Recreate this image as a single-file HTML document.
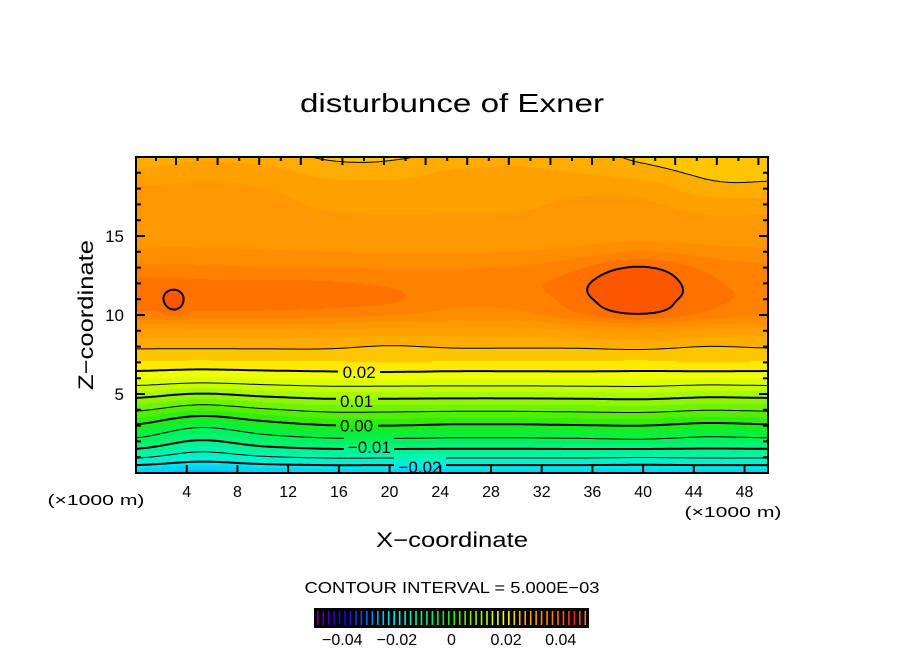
<!DOCTYPE html>
<html><head><meta charset="utf-8">
<style>
html,body{margin:0;padding:0;background:#fff;}
#wrap{position:relative;width:904px;height:654px;overflow:hidden;font-family:"Liberation Sans",sans-serif;}
canvas,svg{position:absolute;left:0;top:0;}
</style></head>
<body>
<div id="wrap">
<canvas id="fill" width="904" height="654"></canvas>
<svg id="svg" width="904" height="654"></svg>
</div>
<script>
// ---- data ----
const xCoords = [0,5,10,15,20,25,30,35,40,45,50];
const zCoords = [0,1,2,3,4,5,6,7,8,9,10,11,12,13,14,15,16,17,18,19,20];
const fieldRows = [
[-0.0245,-0.026,-0.025,-0.0245,-0.0245,-0.0245,-0.0245,-0.0245,-0.0245,-0.0245,-0.0245],
[-0.0145,-0.0175,-0.0155,-0.0145,-0.0145,-0.0145,-0.0145,-0.0145,-0.0148,-0.0145,-0.0145],
[-0.0065,-0.0105,-0.0078,-0.0065,-0.0063,-0.0065,-0.0065,-0.0063,-0.006,-0.0068,-0.0065],
[-0.0005,-0.0042,-0.0018,-0.0002,0.0,-0.0005,-0.0005,-0.0002,0.0,-0.001,-0.0005],
[0.0055,0.0028,0.0045,0.0058,0.0058,0.0056,0.0056,0.0058,0.006,0.0052,0.0055],
[0.0115,0.0098,0.011,0.0118,0.0118,0.0117,0.0117,0.0118,0.012,0.0113,0.0115],
[0.0178,0.017,0.0175,0.018,0.018,0.0179,0.0179,0.018,0.018,0.0176,0.0178],
[0.0222,0.022,0.0222,0.0222,0.0225,0.0222,0.0222,0.0222,0.022,0.0225,0.0222],
[0.0255,0.0255,0.0255,0.0255,0.0248,0.0253,0.0253,0.0253,0.0255,0.0249,0.0253],
[0.0295,0.0295,0.0295,0.0295,0.029,0.029,0.029,0.0295,0.0298,0.0295,0.029],
[0.0365,0.0365,0.0365,0.036,0.035,0.034,0.034,0.036,0.0368,0.036,0.0355],
[0.039,0.0385,0.0385,0.0385,0.038,0.0355,0.036,0.0372,0.0368,0.0372,0.037],
[0.0385,0.038,0.038,0.0378,0.037,0.0358,0.0368,0.0372,0.0368,0.037,0.0365],
[0.0355,0.0355,0.0352,0.035,0.0348,0.0348,0.0352,0.0358,0.0365,0.036,0.0355],
[0.033,0.033,0.0328,0.0325,0.0323,0.0323,0.0325,0.033,0.0335,0.0335,0.033],
[0.0315,0.0315,0.0313,0.031,0.0308,0.0308,0.0308,0.031,0.0312,0.031,0.031],
[0.031,0.031,0.0308,0.0303,0.0302,0.0302,0.0302,0.0305,0.0307,0.0303,0.0303],
[0.0306,0.0306,0.0304,0.0298,0.0296,0.0297,0.0298,0.0302,0.0303,0.029,0.029],
[0.0302,0.0302,0.03,0.0292,0.029,0.0292,0.0294,0.0296,0.029,0.026,0.0255],
[0.0285,0.0295,0.029,0.0265,0.0262,0.028,0.028,0.0275,0.0262,0.0245,0.0248],
[0.025,0.027,0.026,0.0248,0.0248,0.0255,0.027,0.026,0.0245,0.0235,0.024]
];
const bumpX = [3, 39.5];
const bumpZ = [10.8, 11.7];
const bumpAmp = [0.003, 0.0055];
const bumpRx = [0.9, 4.6];
const bumpRz = [0.9, 2.1];
const lineLevels = [-0.02,-0.015,-0.01,-0.005,0,0.005,0.01,0.015,0.02,0.025,0.04];
const labelText = ["0.02","0.01","0.00","\u22120.01","\u22120.02"];
const labelX = [17.6,17.4,17.4,18.4,22.4];
const labelZ = [6.4,4.55,3.0,1.65,0.38];
const xTicks = [4,8,12,16,20,24,28,32,36,40,44,48];
const zTicks = [5,10,15];
const cbTicks = [-0.04,-0.02,0,0.02,0.04];
const cbTickText = ["\u22120.04","\u22120.02","0","0.02","0.04"];

// ---- geometry ----
const L=136,R=768,T=157,B=473;
const X0=0,X1=49.85,Z0=0,Z1=20;
const sx=x=>L+(x-X0)/(X1-X0)*(R-L);
const sz=z=>B-(z-Z0)/(Z1-Z0)*(B-T);
const ix=px=>X0+(px-L)/(R-L)*(X1-X0);
const iz=py=>Z0+(B-py)/(B-T)*(Z1-Z0);

function cr(p0,p1,p2,p3,t){return 0.5*((2*p1)+(-p0+p2)*t+(2*p0-5*p1+4*p2-p3)*t*t+(-p0+3*p1-3*p2+p3)*t*t*t);}
function g(i,j){i=Math.max(0,Math.min(zCoords.length-1,i));j=Math.max(0,Math.min(xCoords.length-1,j));return fieldRows[i][j];}
function field(x,z){
  let fx=(x-xCoords[0])/(xCoords[1]-xCoords[0]), fz=(z-zCoords[0])/(zCoords[1]-zCoords[0]);
  fx=Math.max(0,Math.min(xCoords.length-1.0001,fx)); fz=Math.max(0,Math.min(zCoords.length-1.0001,fz));
  const j=Math.floor(fx),i=Math.floor(fz),tx=fx-j,tz=fz-i;
  const r=[];
  for(let k=-1;k<=2;k++) r.push(cr(g(i+k,j-1),g(i+k,j),g(i+k,j+1),g(i+k,j+2),tx));
  let v=cr(r[0],r[1],r[2],r[3],tz);
  for(let b=0;b<bumpX.length;b++){const dx=(x-bumpX[b])/bumpRx[b],dz=(z-bumpZ[b])/bumpRz[b];v+=bumpAmp[b]*Math.exp(-(dx*dx+dz*dz));}
  return v;
}
const stopsV=[-0.05,-0.04,-0.03,-0.025,-0.02,-0.015,-0.01,-0.005,0,0.005,0.01,0.015,0.02,0.0225,0.025,0.0275,0.03,0.0325,0.035,0.0375,0.04,0.045,0.05];
const stopsC=["#7000a0","#2000d0","#0070ff","#00c8ff","#00eee8","#00f4b8","#00f488","#00f050","#20ec10","#60f000","#9cf800","#d0ff00","#f8ff00","#ffd800","#ffb400","#ffa400","#ff9c00","#ff9200","#ff8800","#ff7a00","#ff6a00","#ff2000","#ff7070"];
function hex(c){return [parseInt(c.substr(1,2),16),parseInt(c.substr(3,2),16),parseInt(c.substr(5,2),16)];}
function color(v){
  if(v<=stopsV[0])return hex(stopsC[0]);
  for(let k=1;k<stopsV.length;k++){if(v<=stopsV[k]){const t=(v-stopsV[k-1])/(stopsV[k]-stopsV[k-1]);const a=hex(stopsC[k-1]),b=hex(stopsC[k]);return [0,1,2].map(n=>Math.round(a[n]+(b[n]-a[n])*t));}}
  return hex(stopsC[stopsC.length-1]);
}
// ---- fill ----
const ctx=document.getElementById('fill').getContext('2d');
const W=R-L,H=B-T;
const img=ctx.createImageData(W,H);
const step=0.0025;
for(let py=0;py<H;py++)for(let px=0;px<W;px++){
  const v=field(ix(L+px+0.5),iz(T+py+0.5));
  const q=Math.floor(v/step)*step+step/2;
  const c=color(q);const o=(py*W+px)*4;
  img.data[o]=c[0];img.data[o+1]=c[1];img.data[o+2]=c[2];img.data[o+3]=255;
}
ctx.putImageData(img,L,T);

// ---- svg ----
const NS="http://www.w3.org/2000/svg";
const svg=document.getElementById('svg');
function mk(tag,attrs,parent){const e=document.createElementNS(NS,tag);for(const k in attrs)e.setAttribute(k,attrs[k]);(parent||svg).appendChild(e);return e;}
function txt(s,x,y,size,anchor,parent){const e=mk('text',{x:x,y:y,'font-size':size,'text-anchor':anchor||'middle','font-family':'Liberation Sans, sans-serif',fill:'#000'},parent);e.textContent=s;return e;}

const boxes=labelText.map((s,k)=>{const cx=sx(labelX[k]),cy=sz(labelZ[k]);const w=s.length*9+6;return [cx-w/2,cy-9,cx+w/2,cy+9];});
function inBox(x,y){return boxes.some(b=>x>b[0]&&x<b[2]&&y>b[1]&&y<b[3]);}

const st=2,nx=Math.ceil(W/st),ny=Math.ceil(H/st);
const vals=[];
for(let j=0;j<=ny;j++){const row=[];for(let i=0;i<=nx;i++){row.push(field(ix(L+Math.min(W,i*st)),iz(T+Math.min(H,j*st))));}vals.push(row);}
const gC=mk('g',{});


lineLevels.forEach(lv=>{
  let d="";
  for(let j=0;j<ny;j++)for(let i=0;i<nx;i++){
    const x0=L+i*st,y0=T+j*st,x1=Math.min(R,x0+st),y1=Math.min(B,y0+st);
    const a=vals[j][i],b=vals[j][i+1],c=vals[j+1][i+1],e=vals[j+1][i];
    const pts=[];
    const ed=(va,vb,pa,pb)=>{if((va<lv)!==(vb<lv)){const t=(lv-va)/(vb-va);pts.push([pa[0]+(pb[0]-pa[0])*t,pa[1]+(pb[1]-pa[1])*t]);}};
    ed(a,b,[x0,y0],[x1,y0]);ed(b,c,[x1,y0],[x1,y1]);ed(c,e,[x1,y1],[x0,y1]);ed(e,a,[x0,y1],[x0,y0]);
    for(let k=0;k+1<pts.length;k+=2){
      const mx=(pts[k][0]+pts[k+1][0])/2,my=(pts[k][1]+pts[k+1][1])/2;
      if(inBox(mx,my))continue;
      d+=`M${pts[k][0].toFixed(1)},${pts[k][1].toFixed(1)}L${pts[k+1][0].toFixed(1)},${pts[k+1][1].toFixed(1)}`;
    }
  }
  const thick=Math.abs(Math.round(lv*100)-lv*100)<1e-6;
  const p=mk('path',{d:d,fill:'none',stroke:'#000','stroke-width':thick?2:1},gC);
  
  
  if(lv<0)p.setAttribute('stroke-dasharray','6 4');
});
labelText.forEach((s,k)=>{
  const t=txt(s,sx(labelX[k]),sz(labelZ[k])+6,17,'middle');
  
  
});

const frame=mk('rect',{x:L,y:T,width:W,height:H,fill:'none',stroke:'#000','stroke-width':2});


let td="";
xTicks.forEach(v=>{const x=sx(v);td+=`M${x},${B}V${B-8}`;});
for(let x=176;x<R;x+=41.6){td+=`M${x.toFixed(1)},${T}V${T+8}`;}
for(let x=156;x<R;x+=41.6){td+=`M${x.toFixed(1)},${T}V${T+4}`;}
for(let z=1;z<20;z++){const y=sz(z);const len=(z%5===0)?9:5;td+=`M${L},${y}H${L+len}M${R},${y}H${R-len}`;}
const ticks=mk('path',{d:td,stroke:'#000','stroke-width':2,fill:'none'});


xTicks.forEach(v=>{const t=txt(String(v),sx(v),497,16,'middle');});
zTicks.forEach(v=>{const t=txt(String(v),124,sz(v)+6,17,'end');});

function fit(t,len){t.setAttribute('textLength',len);t.setAttribute('lengthAdjust','spacingAndGlyphs');}
const title=txt('disturbunce of Exner',452,112,26,'middle');
fit(title,304);


const xt=txt('X\u2212coordinate',452,547,21,'middle');
fit(xt,152);


const yt=txt('Z\u2212coordinate',0,0,21,'middle');
fit(yt,150);
yt.setAttribute('transform','translate(93,315) rotate(-90)');


const u1=txt('(\u00d71000 m)',96,505,15,'middle');
fit(u1,97);


const u2=txt('(\u00d71000 m)',733,517,15,'middle');
fit(u2,97);


const ci=txt('CONTOUR INTERVAL = 5.000E\u221203',452,593,16,'middle');
fit(ci,295);



const cbL=315,cbR=588,cbT=609,cbB=627;
const cbx=v=>cbL+(v+0.05)/0.1*(cbR-cbL);
const cb=mk('rect',{x:cbL,y:cbT,width:cbR-cbL,height:cbB-cbT,fill:'#000',stroke:'#000','stroke-width':2});


for(let v=-0.049;v<0.05;v+=0.002){
  const c=color(v);
  const ln=mk('line',{x1:cbx(v),x2:cbx(v),y1:cbT+2,y2:cbB-2,stroke:`rgb(${c[0]},${c[1]},${c[2]})`,'stroke-width':1.6});
  
  
}
cbTicks.forEach((v,k)=>{const t=txt(cbTickText[k],cbx(v),645,16,'middle');});
</script>
</body></html>
